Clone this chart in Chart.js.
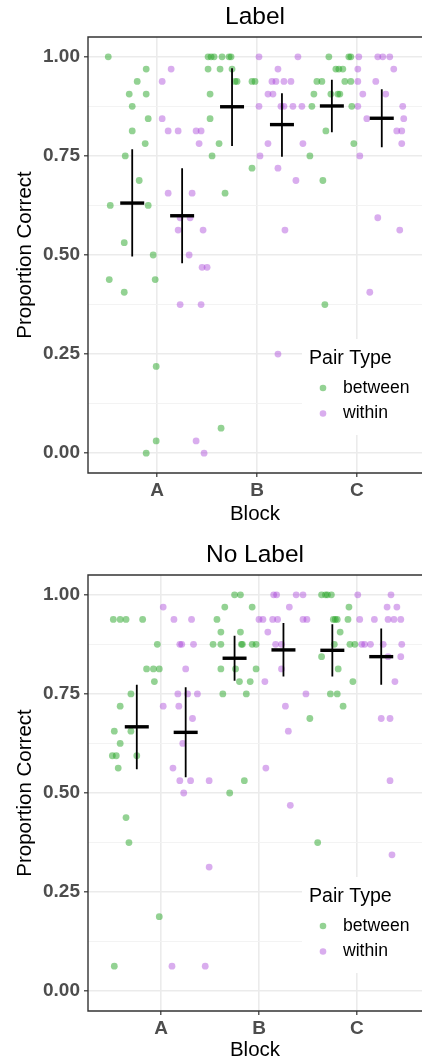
<!DOCTYPE html>
<html>
<head>
<meta charset="utf-8">
<script src="https://cdn.jsdelivr.net/npm/chart.js@4.4.1/dist/chart.umd.min.js"></script>
<style>
  html, body { margin: 0; padding: 0; background: #fff; overflow: hidden; }
  .panel { position: relative; width: 422px; }
  canvas { display: block; }
</style>
</head>
<body>
<div class="panel" style="height:531px"><canvas id="labelChart"></canvas></div>
<div class="panel" style="height:530px"><canvas id="noLabelChart"></canvas></div>
<script>
// ===== data =====
const blocks = ['A', 'B', 'C'];
const pairTypes = ['between', 'within'];
const yTickValues = [0, 0.125, 0.25, 0.375, 0.5, 0.625, 0.75, 0.875, 1];
const yTickLabels = ['0.00', '', '0.25', '', '0.50', '', '0.75', '', '1.00'];

// jittered points [x, proportion], x = 1 (A) .. 3 (C)
const labelBetween = [
  [0.51,1.000],[0.89,0.969],[0.80,0.938],[0.72,0.906],[0.89,0.906],[0.75,0.875],[0.91,0.844],
  [0.75,0.813],[0.88,0.781],[0.68,0.750],[0.82,0.688],[0.53,0.625],[0.91,0.625],[0.67,0.531],
  [0.96,0.500],[0.52,0.438],[0.98,0.438],[0.67,0.406],[0.99,0.219],[0.99,0.031],[0.89,0.000],
  [1.51,1.000],[1.54,1.000],[1.57,1.000],[1.65,1.000],[1.72,1.000],[1.74,1.000],[1.51,0.969],
  [1.63,0.969],[1.75,0.969],[1.78,0.938],[1.80,0.938],[1.95,0.938],[1.98,0.938],[1.53,0.906],
  [1.53,0.844],[1.62,0.781],[1.55,0.750],[1.95,0.719],[1.68,0.656],[1.64,0.063],
  [2.72,1.000],[2.92,1.000],[2.94,1.000],[2.79,0.969],[2.82,0.969],[2.86,0.969],[2.60,0.938],
  [2.65,0.938],[2.88,0.938],[2.94,0.938],[2.57,0.906],[2.74,0.906],[2.81,0.906],[2.83,0.906],
  [2.55,0.875],[2.95,0.875],[2.69,0.813],[2.97,0.781],[2.53,0.750],[2.66,0.688],[2.68,0.375]
];
const labelWithin = [
  [1.14,0.969],[1.05,0.938],[1.05,0.844],[1.11,0.813],[1.21,0.813],[1.39,0.813],[1.44,0.813],
  [1.42,0.781],[1.11,0.656],[1.35,0.656],[1.23,0.594],[1.33,0.594],[1.21,0.563],[1.46,0.563],
  [1.32,0.500],[1.45,0.469],[1.50,0.469],[1.23,0.375],[1.44,0.375],[1.39,0.031],[1.47,0.000],
  [2.02,1.000],[2.41,1.000],[2.21,0.969],[2.15,0.938],[2.19,0.938],[2.27,0.938],[2.34,0.938],
  [2.11,0.906],[2.16,0.906],[2.02,0.875],[2.24,0.875],[2.27,0.875],[2.36,0.875],[2.45,0.875],
  [2.11,0.781],[2.46,0.781],[2.03,0.750],[2.21,0.719],[2.39,0.688],[2.28,0.563],[2.21,0.250],
  [3.02,1.000],[3.21,1.000],[3.26,1.000],[3.33,1.000],[3.01,0.969],[3.37,0.969],[3.01,0.938],
  [3.19,0.938],[3.06,0.906],[3.29,0.906],[3.01,0.875],[3.46,0.875],[3.10,0.844],[3.47,0.844],
  [3.40,0.813],[3.45,0.813],[3.45,0.781],[3.03,0.750],[3.21,0.594],[3.43,0.563],[3.13,0.406]
];
const noLabelBetween = [
  [0.51,0.938],[0.58,0.938],[0.64,0.938],[0.81,0.938],[0.96,0.875],[0.85,0.813],[0.92,0.813],
  [0.98,0.813],[0.93,0.781],[0.69,0.750],[0.58,0.719],[0.52,0.656],[0.69,0.656],[0.58,0.625],
  [0.50,0.594],[0.54,0.594],[0.75,0.594],[0.56,0.563],[0.64,0.438],[0.67,0.375],[0.98,0.188],
  [0.52,0.063],
  [1.75,1.000],[1.81,1.000],[1.65,0.969],[1.93,0.969],[1.57,0.938],[1.61,0.906],[1.81,0.906],
  [1.53,0.875],[1.61,0.875],[1.82,0.875],[1.83,0.875],[1.93,0.875],[1.97,0.875],[1.61,0.813],
  [1.76,0.813],[1.97,0.813],[1.80,0.781],[1.91,0.781],[1.63,0.750],[1.87,0.750],[1.85,0.531],
  [1.70,0.500],
  [2.64,1.000],[2.68,1.000],[2.70,1.000],[2.74,1.000],[2.92,0.969],[2.76,0.938],[2.78,0.938],
  [2.80,0.938],[2.91,0.938],[2.83,0.906],[2.77,0.875],[2.93,0.875],[2.98,0.875],[2.64,0.844],
  [2.81,0.813],[2.96,0.781],[2.73,0.750],[2.80,0.750],[2.86,0.719],[2.52,0.688],[2.60,0.375]
];
const noLabelWithin = [
  [1.02,0.969],[1.13,0.938],[1.31,0.938],[1.19,0.875],[1.21,0.875],[1.33,0.875],[1.25,0.813],
  [1.17,0.750],[1.27,0.750],[1.37,0.750],[1.02,0.719],[1.18,0.719],[1.32,0.688],[1.22,0.625],
  [1.12,0.563],[1.19,0.531],[1.30,0.531],[1.49,0.531],[1.23,0.500],[1.49,0.313],[1.11,0.063],
  [1.45,0.063],
  [2.15,1.000],[2.18,1.000],[2.38,1.000],[2.45,1.000],[2.31,0.969],[2.00,0.938],[2.04,0.938],
  [2.14,0.938],[2.19,0.938],[2.45,0.938],[2.49,0.938],[2.09,0.906],[2.17,0.875],[2.23,0.875],
  [2.23,0.813],[2.06,0.781],[2.48,0.750],[2.27,0.719],[2.30,0.656],[2.07,0.563],[2.32,0.469],
  [3.01,1.000],[3.35,1.000],[3.31,0.969],[3.41,0.969],[3.03,0.938],[3.18,0.938],[3.32,0.938],
  [3.38,0.938],[3.45,0.938],[3.05,0.875],[3.08,0.875],[3.14,0.875],[3.27,0.875],[3.46,0.875],
  [3.32,0.844],[3.45,0.844],[3.39,0.781],[3.25,0.688],[3.34,0.688],[3.34,0.531],[3.36,0.344]
];

// means and interval ends per block (A, B, C)
const labelBetweenMean = [0.631, 0.874, 0.876];
const labelBetweenLow  = [0.496, 0.775, 0.810];
const labelBetweenHigh = [0.767, 0.971, 0.942];
const labelWithinMean  = [0.599, 0.829, 0.845];
const labelWithinLow   = [0.479, 0.748, 0.772];
const labelWithinHigh  = [0.719, 0.908, 0.918];
const noLabelBetweenMean = [0.667, 0.840, 0.860];
const noLabelBetweenLow  = [0.560, 0.783, 0.794];
const noLabelBetweenHigh = [0.773, 0.897, 0.926];
const noLabelWithinMean  = [0.653, 0.861, 0.844];
const noLabelWithinLow   = [0.540, 0.794, 0.773];
const noLabelWithinHigh  = [0.767, 0.929, 0.915];

// ===== style =====
const FONT = "'Liberation Sans', Arial, Helvetica, sans-serif";
const pointColors = ['rgba(40, 165, 40, 0.5)', 'rgba(165, 60, 215, 0.42)'];
const pairOffsets = [-0.25, 0.25];
const legendTitle = 'Pair Type';

Chart.defaults.font.family = FONT;

// 패널 테두리 (위, 왼쪽, 아래)
const panelBorder = {
  id: 'panelBorder',
  afterDatasetsDraw(chart) {
    const { ctx, chartArea: a } = chart;
    ctx.save();
    ctx.strokeStyle = '#333333';
    ctx.lineWidth = 1.4;
    ctx.beginPath();
    ctx.moveTo(a.right, a.top);
    ctx.lineTo(a.left, a.top);
    ctx.lineTo(a.left, a.bottom);
    ctx.lineTo(a.right, a.bottom);
    ctx.stroke();
    ctx.restore();
  }
};

// 패널 안쪽 범례
const pairLegend = {
  id: 'pairLegend',
  afterDraw(chart) {
    const { ctx, chartArea: a } = chart;
    const items = chart.data.datasets.filter(d => pairTypes.includes(d.label));
    ctx.save();
    ctx.fillStyle = '#ffffff';
    ctx.fillRect(a.right - 120, a.bottom - 134, 120, 96);
    ctx.textBaseline = 'middle';
    ctx.textAlign = 'left';
    ctx.fillStyle = '#000000';
    ctx.font = '19.6px ' + FONT;
    ctx.fillText(legendTitle, a.right - 113, a.bottom - 114);
    ctx.font = '17.6px ' + FONT;
    items.forEach((d, i) => {
      const y = a.bottom - 85 + i * 25.5;
      ctx.fillStyle = d.backgroundColor;
      ctx.beginPath();
      ctx.arc(a.right - 99, y, 3.3, 0, Math.PI * 2);
      ctx.fill();
      ctx.fillStyle = '#000000';
      ctx.fillText(d.label, a.right - 79, y);
    });
    ctx.restore();
  }
};

function buildDatasets(series) {
  const datasets = [];
  series.forEach((s, i) => {
    datasets.push({
      label: pairTypes[i],
      data: s.points.map(p => ({ x: p[0], y: p[1] })),
      backgroundColor: pointColors[i],
      pointRadius: 3.4,
      pointHoverRadius: 3.4,
      pointBorderWidth: 0,
      order: 3
    });
  });
  series.forEach((s, i) => {
    const ranges = [];
    blocks.forEach((b, j) => {
      const x = j + 1 + pairOffsets[i];
      ranges.push({ x: x, y: s.low[j] }, { x: x, y: s.high[j] }, { x: x, y: null });
    });
    datasets.push({
      type: 'line',
      label: 'range',
      data: ranges,
      borderColor: '#000000',
      borderWidth: 1.8,
      pointRadius: 0,
      spanGaps: false,
      order: 2
    });
    datasets.push({
      label: 'mean',
      data: blocks.map((b, j) => ({ x: j + 1 + pairOffsets[i], y: s.mean[j] })),
      pointStyle: 'line',
      pointRadius: 12,
      pointHoverRadius: 12,
      borderColor: '#000000',
      borderWidth: 3.4,
      order: 1
    });
  });
  return datasets;
}

function makePanel(canvasId, cfg) {
  const isMajor = i => yTickLabels[i] !== '';
  return new Chart(document.getElementById(canvasId), {
    type: 'scatter',
    data: { datasets: buildDatasets(cfg.series) },
    plugins: [panelBorder, pairLegend],
    options: {
      responsive: true,
      maintainAspectRatio: false,
      devicePixelRatio: 1,
      animation: false,
      events: [],
      layout: { padding: 0, autoPadding: false },
      plugins: {
        legend: { display: false },
        tooltip: { enabled: false },
        title: {
          display: true,
          fullSize: false,
          text: cfg.title,
          color: '#000000',
          font: { size: 24.5, weight: 'normal', lineHeight: 1.2 },
          padding: { top: cfg.titleTop, bottom: cfg.titleBottom }
        }
      },
      scales: {
        x: {
          type: 'linear',
          min: cfg.xMin,
          max: cfg.xMax,
          afterBuildTicks: s => { s.ticks = blocks.map((b, i) => ({ value: i + 1 })); },
          afterFit: s => { s.height = cfg.xAxisHeight; },
          ticks: {
            callback: v => blocks[v - 1],
            color: '#4d4d4d',
            font: { size: 19, weight: 'bold' },
            padding: 2,
            maxRotation: 0,
            autoSkip: false
          },
          grid: { color: '#ebebeb', lineWidth: 1.6, tickLength: 4, tickColor: '#333333', tickWidth: 1.2 },
          border: { display: false },
          title: {
            display: true,
            text: 'Block',
            color: '#000000',
            font: { size: 20.5, lineHeight: 1 },
            padding: { top: 0, bottom: cfg.xTitlePad }
          }
        },
        y: {
          type: 'linear',
          min: -0.05,
          max: 1.05,
          afterBuildTicks: s => { s.ticks = yTickValues.map(v => ({ value: v })); },
          afterFit: s => { s.width = 88; },
          ticks: {
            callback: (v, i) => yTickLabels[i],
            color: '#4d4d4d',
            font: { size: 19, weight: 'bold' },
            padding: 4,
            autoSkip: false
          },
          grid: {
            color: c => isMajor(c.index) ? '#ebebeb' : '#f2f2f2',
            lineWidth: c => isMajor(c.index) ? 1.6 : 0.9,
            tickLength: 4,
            tickColor: c => isMajor(c.index) ? '#333333' : 'rgba(0,0,0,0)',
            tickWidth: 1.2
          },
          border: { display: false },
          title: {
            display: true,
            text: 'Proportion Correct',
            color: '#000000',
            font: { size: 20.5, lineHeight: 1 },
            padding: { top: 15, bottom: 0 }
          }
        }
      }
    }
  });
}

makePanel('labelChart', {
  title: 'Label',
  titleTop: 2.3, titleBottom: 5.3,
  xMin: 0.307, xMax: 3.653,
  xAxisHeight: 58, xTitlePad: 6.5,
  series: [
    { points: labelBetween, mean: labelBetweenMean, low: labelBetweenLow, high: labelBetweenHigh },
    { points: labelWithin, mean: labelWithinMean, low: labelWithinLow, high: labelWithinHigh }
  ]
});

makePanel('noLabelChart', {
  title: 'No Label',
  titleTop: 9.6, titleBottom: 5,
  xMin: 0.251, xMax: 3.667,
  xAxisHeight: 50, xTitlePad: 0.7,
  series: [
    { points: noLabelBetween, mean: noLabelBetweenMean, low: noLabelBetweenLow, high: noLabelBetweenHigh },
    { points: noLabelWithin, mean: noLabelWithinMean, low: noLabelWithinLow, high: noLabelWithinHigh }
  ]
});
</script>
</body>
</html>
